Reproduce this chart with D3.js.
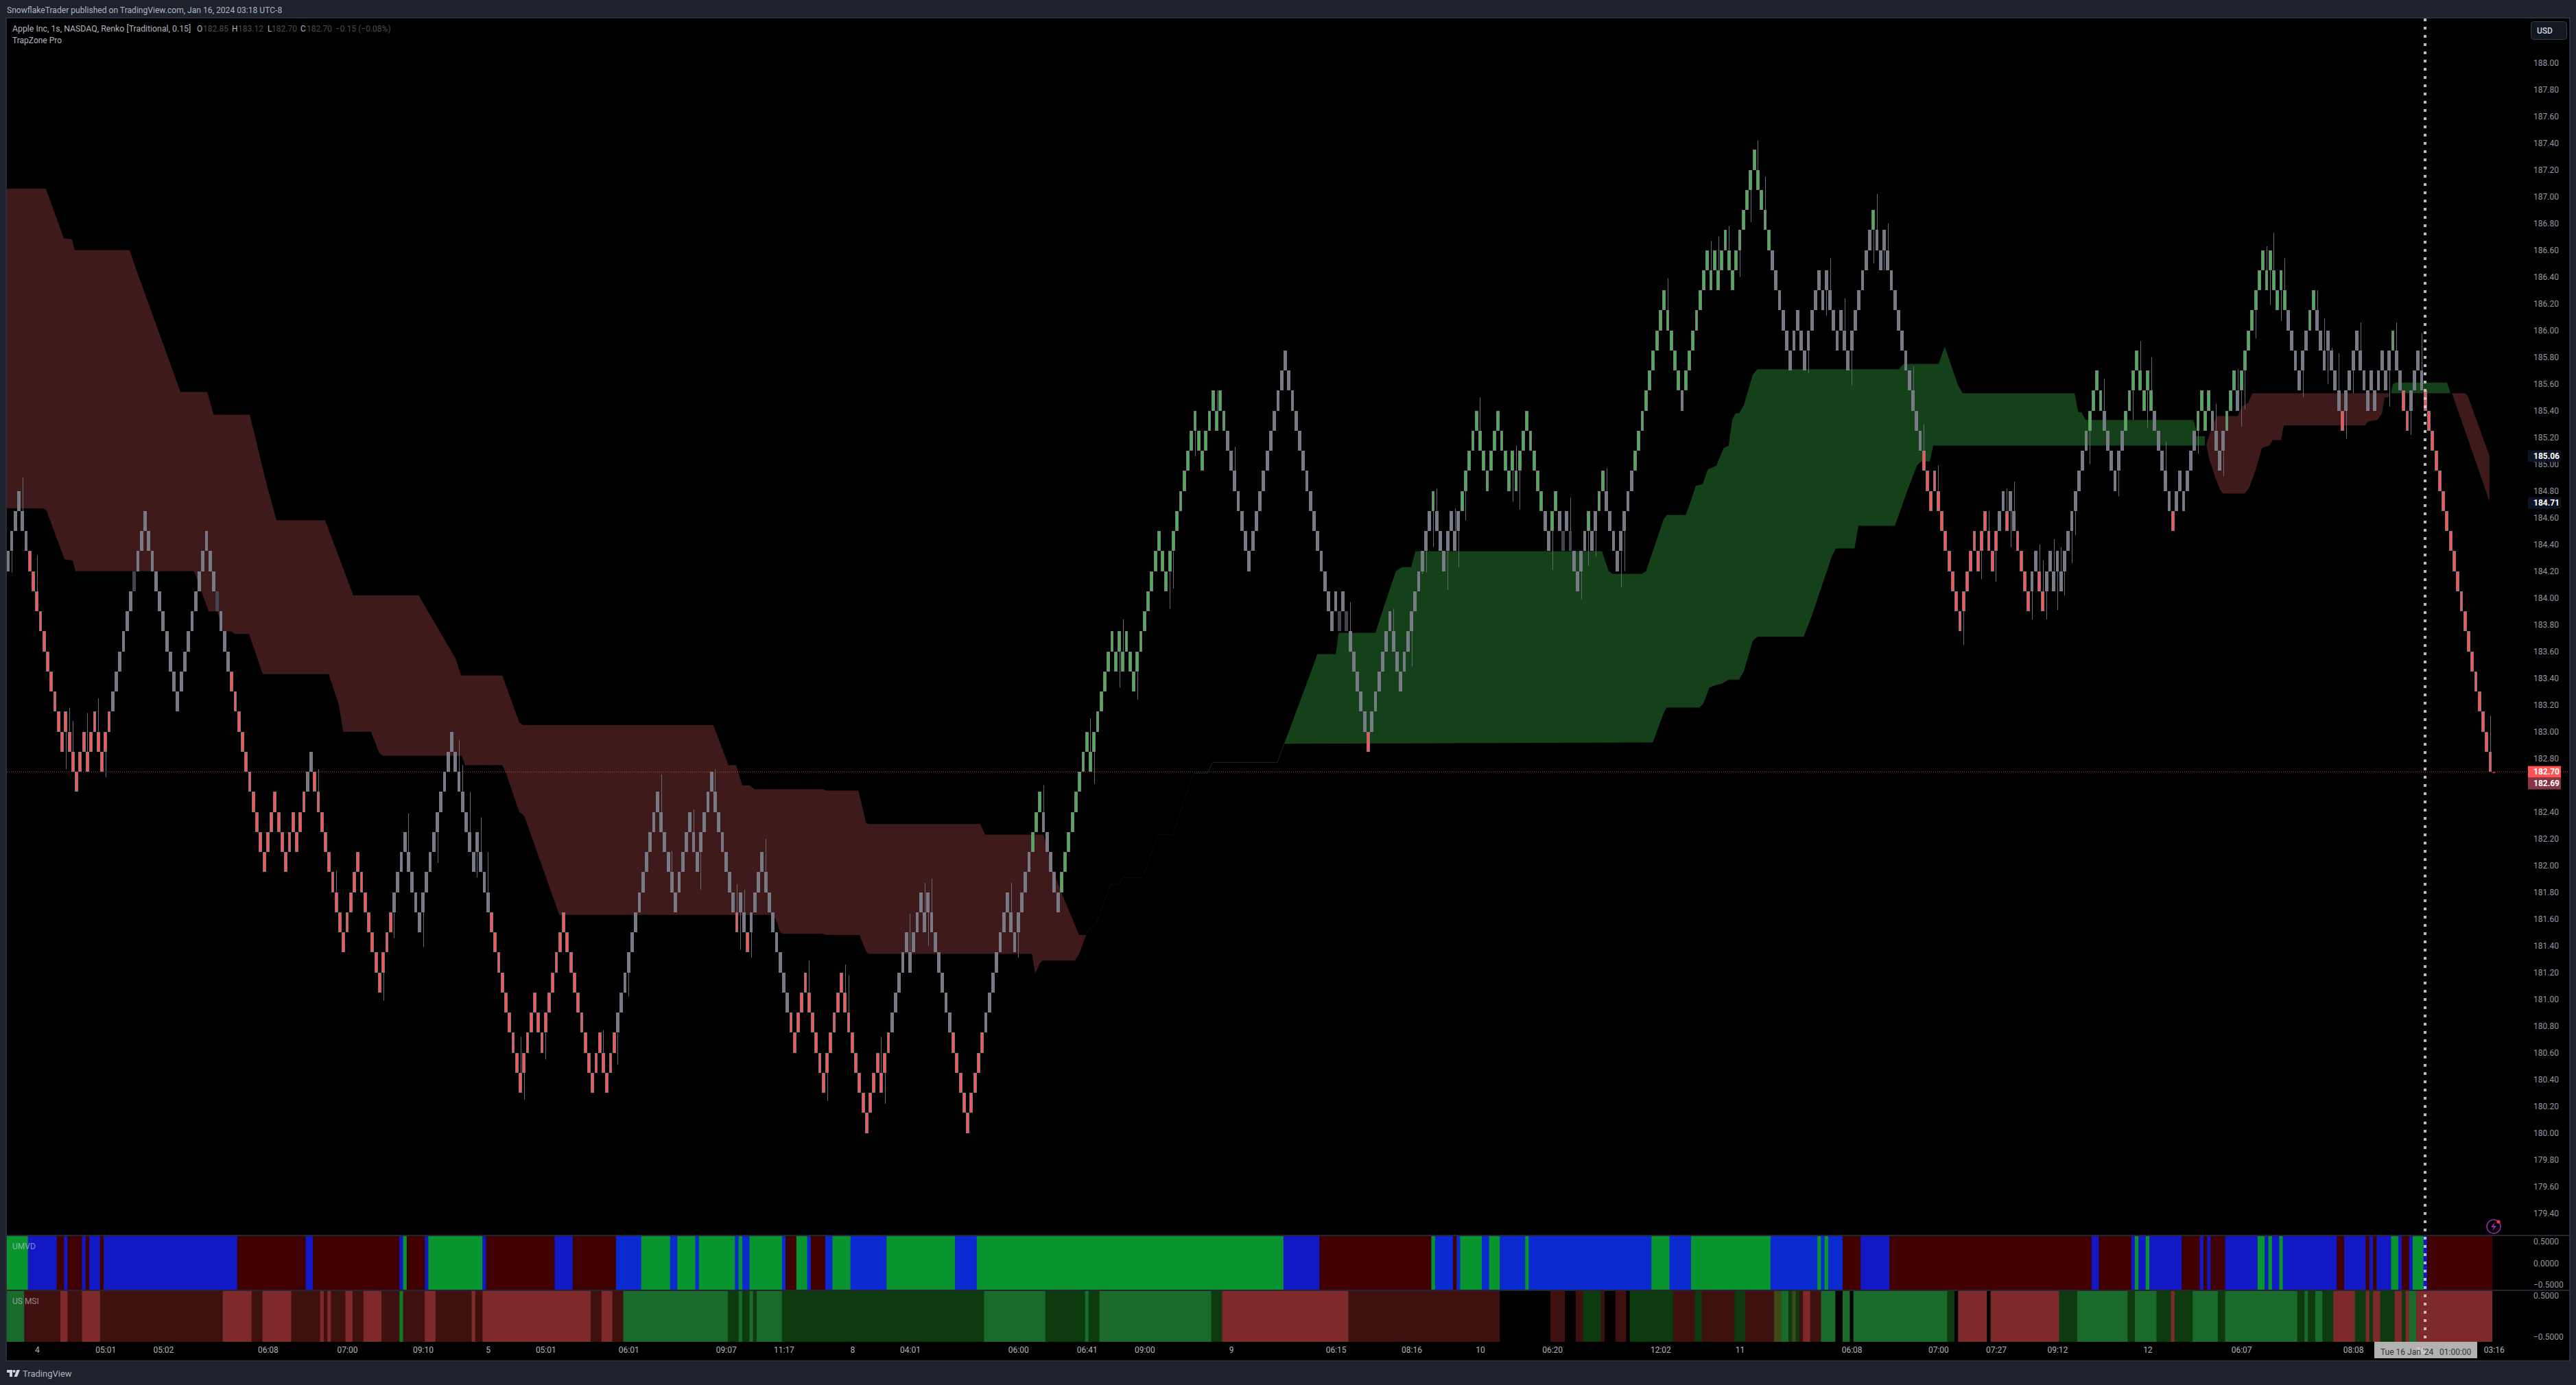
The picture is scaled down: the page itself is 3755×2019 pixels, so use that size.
<!DOCTYPE html>
<html><head><meta charset="utf-8">
<script src="https://cdn.jsdelivr.net/npm/d3@7/dist/d3.min.js"></script>
<style>html,body{margin:0;padding:0;background:#1e222d}svg{display:block}text{font-family:Roboto,"Liberation Sans",sans-serif}</style>
</head><body><script>
// ---- price scale data
const priceTicks=[188,187.8,187.6,187.4,187.2,187,186.8,186.6,186.4,186.2,186,185.8,185.6,185.4,185.2,185,184.8,184.6,184.4,184.2,184,183.8,183.6,183.4,183.2,183,182.8,182.6,182.4,182.2,182,181.8,181.6,181.4,181.2,181,180.8,180.6,180.4,180.2,180,179.8,179.6,179.4];
const basePrice=182.70, brickSize=0.15;
// lower edge of every Renko brick, in bricks from 182.70
const brickLevels=[
10,11,12,13,12,11,10,9,8,7,6,5,4,3,2,1,2,1,0,-1,0,1,0,1,2,1,0,1,2,3,4,5,6,7,8,9,10,11,12,11,
10,9,8,7,6,5,4,3,4,5,6,7,8,9,10,11,10,9,8,7,6,5,4,3,2,1,0,-1,-2,-3,-4,-5,-4,-3,-2,-3,-4,-5,-4,-3,
-4,-3,-2,
-1,0,-1,-2,-3,-4,-5,-6,-7,-8,-9,-8,-7,-6,-5,-6,-7,-8,-9,-10,
-11,-10,-9,-8,-7,-6,-5,-4,-5,-6,-7,-8,-7,-6,-5,-4,-3,-2,-1,0,
1,0,-1,-2,-3,-4,-5,-4,-5,-6,-7,-8,-9,-10,-11,-12,-13,-14,-15,-16,
-15,-14,-13,-12,-13,-14,-13,-12,-11,-10,-9,-8,-9,-10,-11,-12,-13,-14,-15,-16,
-15,-14,-15,-16,-15,-14,-13,-12,-11,-10,-9,-8,-7,-6,-5,-4,-3,-2,-3,-4,
-5,-6,-7,-6,-5,-4,-3,-4,-5,-4,-3,-2,-1,-2,-3,-4,-5,-6,-7,-8,
-7,-8,-9,-8,-7,-6,-5,-6,-7,-8,-9,-10,-11,-12,-13,-14,-13,-12,-11,-12,
-13,-14,-15,-16,-15,-14,-13,-12,-11,-12,-13,-14,-15,-16,-17,-18,-17,-16,-15,-16,
-15,-14,-13,-12,-11,-10,-9,-10,-9,-8,-7,-8,-7,-8,-9,-10,-11,
-12,-13,-14,-15,-16,-17,-18,-17,-16,-15,-14,-13,-12,-11,
-10,-9,-8,-7,-8,-9,-8,-7,-6,-5,-4,-3,-2,-3,-4,-5,-6,-7,-6,-5,
-4,-3,-2,-1,0,1,0,1,2,3,4,5,6,5,6,5,6,5,4,5,
6,7,8,9,10,11,10,9,10,11,12,13,14,15,16,17,16,15,16,17,
18,17,18,17,16,15,14,13,12,11,10,11,12,13,14,15,16,17,18,19,
20,19,18,17,16,15,14,13,12,11,10,9,8,7,8,7,8,7,6,5,
4,3,2,1,2,3,4,5,6,7,6,5,
4,5,6,7,8,9,10,11,12,13,12,11,10,11,12,11,12,13,14,15,
16,17,16,15,14,15,16,17,16,15,14,15,14,15,16,17,16,15,14,13,
12,11,12,13,12,11,12,11,10,9,10,11,12,11,12,13,14,13,12,11,
10,11,12,13,14,15,16,17,18,19,20,21,22,23,22,21,20,19,18,19,
20,21,22,23,24,25,24,25,24,25,26,25,24,25,26,27,28,29,30,29,
28,27,26,25,24,23,22,21,20,21,22,21,20,21,22,23,24,23,24,23,
22,21,22,21,20,21,22,23,24,25,26,27,26,25,26,25,24,23,22,21,
20,19,18,17,16,15,14,13,14,13,12,
11,10,9,8,7,8,9,10,11,10,11,12,11,10,11,12,13,12,13,12,
11,10,9,8,9,10,9,8,9,10,9,10,9,10,11,12,13,14,15,16,
17,18,19,18,17,16,15,14,15,16,17,18,19,20,19,18,19,18,17,16,
15,14,13,12,13,14,13,14,15,16,17,18,17,18,17,16,15,16,17,18,
19,18,19,20,21,22,23,24,25,24,25,24,23,24,23,22,21,20,19,20,
21,22,23,22,21,20,21,20,19,18,17,18,19,20,21,20,19,18,19,18,
19,20,19,20,21,20,19,18,17,18,19,20,19,18,
17,16,15,14,13,12,11,10,9,8,7,6,5,4,3,2,1,0];
// colour runs of the bricks: last bar of each run and its state (g grey, d dark grey, r red, v green)
const brickRunEnds=[5,28,34,35,57,58,61,82,84,106,133,168,201,202,204,205,216,244,261,270,283,286,291,337,368,369,370,371,376,377,394,395,402,425,427,429,430,431,432,433,437,438,440,442,450,463,464,488,516,517,530,551,553,554,556,560,562,564,576,580,586,594,599,600,606,610,614,617,618,631,637,639,646,647,660,661,663,665,669,688];
const brickRunStates=["g","r","g","d","g","d","g","r","g","r","g","r","g","r","g","r","g","r","g","r","g","v","g","v","g","d","g","d","g","r","g","v","g","v","g","v","g","d","g","d","g","v","g","v","g","v","g","v","g","v","g","r","g","r","g","r","g","r","g","v","g","v","g","r","g","v","g","v","g","v","g","v","g","r","g","v","g","r","g","r"];
// wick tips: [bar, price]
const wicks=[[1,184.19],[4,184.9],[8,184.32],[16,182.72],[17,183.18],[18,183.08],[22,183.14],[25,183.25],[27,182.66],
[86,182.72],[91,181.96],[104,180.99],[107,181.46],[111,182.39],[115,181.39],[119,182.02],[125,182.94],[126,182.75],[128,182.55],[130,181.91],[131,182.36],[133,182.1],[142,180.72],[143,180.25],[149,180.55],[165,180.77],[169,180.51],[172,181.02],[181,182.68],[184,182.11],[190,182.42],[192,181.82],[196,182.72],[202,181.86],[203,181.37],[204,181.82],[206,181.31],[210,182.2],[222,181.29],[227,180.24],[232,181.26],[233,181.18],[242,180.72],[243,180.22],
[250,181.64],[254,181.87],[255,181.4],[256,181.9],[278,181.87],[280,181.31],[287,182.6],[300,183.1],[301,182.61],[308,183.33],[309,183.84],[313,183.24],[322,183.92],[323,184.07],[329,185.06],[335,185.55],[340,185.13],[372,183.97],[384,183.92],
[389,183.49],[392,184.18],[393,184.19],[395,184.38],[396,184.82],[399,184.06],[401,184.67],[402,184.23],[404,184.58],[408,185.5],[417,184.72],[418,185.14],[419,184.66],[428,184.21],[433,184.75],[436,183.99],[438,184.24],[440,184.31],[443,184.97],[447,184.08],[448,184.2],[460,186.39],[472,186.67],[474,186.7],[477,186.78],[480,186.4],[483,186.81],[485,187.42],[487,187.15],[499,185.68],[504,186.11],[505,186.54],[509,186.24],[511,185.59],[517,186.5],[518,187.02],[520,186.45],[521,186.8],[528,185.73],[531,185.3],
[535,184.99],[542,183.65],[547,184.14],[549,184.65],[551,184.12],[554,184.82],[555,184.38],[556,184.87],[561,183.84],[563,184.4],[564,184.28],[565,183.84],[567,184.44],[568,183.91],[569,184.38],[570,184.02],[572,184.26],[573,184.47],[577,185],[581,185.64],[585,184.76],[589,185.33],[591,185.92],[593,185.27],[594,185.8],[598,185.17],[607,185.08],[612,185.45],[614,184.91],[618,185.71],[619,185.28],[620,185.41],[623,185.94],[626,186.63],[627,186.19],[628,186.73],[630,186.07],[631,186.54],[636,185.5],[640,186.3],[642,186.09],[643,185.6],[644,185.87],[646,185.83],[648,185.19],[650,185.53],[652,186.06],[660,185.43],[662,186.06],[666,185.22],[669,185.98],[688,183.12]];
// TrapZone clouds: [bar, price]
const redTop1=[[-0.4,187.06],[10.5,187.06],[15.46,186.69],[17.74,186.68],[18.5,186.6],[33.7,186.6],[36,186.42],[47.8,185.54],[55.2,185.54],[57,185.37],[67,185.37],[71.4,184.88],[74.4,184.58],[87.9,184.58],[95.7,184.02],[113.8,184.02],[124,183.55],[125.6,183.42],[137,183.42],[141.7,183.07],[142.7,183.05],[195.5,183.05],[199.7,182.75],[201.8,182.75],[203.5,182.6],[205.6,182.6],[206.8,182.57],[225.8,182.57],[226.7,182.56],[235.7,182.56],[237.8,182.32],[238.5,182.31],[269.5,182.31],[270.8,182.23],[287,182.23],[289.5,181.97],[292.7,181.75],[296.9,181.48],[298.8,181.48]];
const redBot1=[[-0.4,184.67],[9.75,184.67],[10.7,184.65],[15.65,184.29],[17.9,184.28],[18.7,184.2],[51.6,184.2],[55.6,183.9],[58.05,183.9],[59.6,183.75],[61.9,183.75],[62.8,183.73],[66.8,183.73],[70.6,183.43],[88.9,183.43],[91.7,183.2],[92.9,183],[100.6,183],[102.9,182.84],[103.9,182.82],[125.7,182.82],[126.7,182.75],[137,182.75],[137.9,182.7],[141.7,182.4],[143.1,182.37],[152.8,181.63],[211.3,181.63],[212.8,181.6],[214,181.5],[214.9,181.49],[225.8,181.49],[226.7,181.48],[236,181.48],[237.8,181.36],[238.5,181.34],[283.8,181.34],[284.7,181.19],[286,181.27],[286.8,181.29],[295.7,181.29],[296.9,181.34],[298.8,181.48]];
const thinNavy=[[298.8,181.48],[299.7,181.53],[301.4,181.55],[305.6,181.86],[307.9,181.86],[308.9,181.91],[314,181.91],[315,181.94],[318.6,182.23],[322.8,182.23],[328.6,182.69]];
const thinGreen=[[328.6,182.69],[332.5,182.69],[333.8,182.77],[351.8,182.77],[353.7,182.91]];
const greenTop1=[[353.7,182.91],[355.1,183.01],[362,183.51],[362.9,183.58],[368,183.58],[368.8,183.74],[379,183.74],[381.3,183.93],[383.8,184.13],[384.7,184.2],[386.2,184.23],[388.9,184.23],[390.1,184.35],[441.8,184.35],[442.9,184.26],[443.7,184.2],[444.8,184.18],[452.8,184.18],[454,184.2],[458.9,184.59],[459.8,184.62],[465,184.62],[466.5,184.73],[467.8,184.84],[469.7,184.85],[471.1,184.96],[473.5,184.99],[475.5,185.12],[476.9,185.14],[477.9,185.33],[478.8,185.38],[479.8,185.38],[481.1,185.44],[483.6,185.67],[484.9,185.71],[524.1,185.71],[525.3,185.75],[535.1,185.75],[536.8,185.88],[540.5,185.59],[541.8,185.53],[572.8,185.53],[573.8,185.39],[574.7,185.39],[575.9,185.33],[605.7,185.33],[606.5,185.26],[606.5,185.21],[608.9,185.21],[608.9,185.14]];
const greenBot1=[[353.7,182.91],[455.9,182.92],[458.9,183.14],[459.7,183.18],[468.8,183.18],[469.9,183.21],[471.6,183.33],[473.5,183.35],[475.1,183.36],[476.9,183.39],[479.8,183.39],[481.1,183.45],[483.6,183.68],[484.9,183.71],[497.7,183.71],[500,183.87],[505.5,184.31],[506.6,184.37],[511.8,184.37],[512.9,184.54],[523,184.54],[526.4,184.8],[529.1,184.99],[530.2,185.02],[532.7,185.02],[533.6,185.14],[608.9,185.14]];
const redTop2=[[609.3,185.15],[610.8,185.27],[612.2,185.36],[618,185.36],[619.2,185.43],[620.9,185.46],[622.1,185.53],[659.9,185.53]];
const redBot2=[[609.3,185.15],[610.1,185.04],[611.8,184.9],[613.1,184.81],[613.9,184.78],[620,184.78],[621.3,184.83],[623,184.96],[624.7,185.12],[626.8,185.14],[627.7,185.18],[630,185.18],[630.8,185.29],[653.2,185.29],[654.2,185.32],[656.7,185.33],[658,185.38],[658.7,185.5],[659.9,185.5]];
const greenTop2=[[660.5,185.53],[661,185.6],[661.8,185.61],[676,185.61],[677,185.53]];
const greenBot2=[[660.5,185.53],[677,185.53]];
const redTop3=[[677.4,185.53],[681,185.53],[681.8,185.51],[687.8,185.06]];
const redBot3=[[677.4,185.53],[682.8,185.11],[687.8,184.72]];
// UMVD pane
const umvdEnds=[5,13,15,16,20,21,22,25,26,63,82,84,108,109,110,115,116,131,132,151,156,168,175,183,185,190,191,201,202,203,205,214,215,218,221,222,226,228,233,243,262,268,353,363,394,395,400,401,402,408,410,413,420,421,455,460,466,488,501,502,503,504,508,513,521,577,579,588,589,590,592,593,602,607,608,609,610,614,623,625,626,627,629,630,645,647,653,654,655,656,660,662,663,665,666,669,670,688];
const umvdStates=["G","b","R","b","R","b","R","b","R","b","R","b","R","b","G","R","b","G","b","R","b","R","B","G","B","G","B","G","B","G","B","G","B","R","G","B","R","B","G","B","G","B","G","b","R","G","B","R","B","G","B","G","B","G","B","G","B","G","B","G","B","G","B","R","b","R","b","R","b","G","b","G","b","R","b","R","b","R","b","G","b","G","b","G","b","R","b","R","b","R","b","G","b","R","b","G","b","R"];
// US MSI pane
const msiEnds=[4,14,16,20,25,59,67,70,78,86,87,88,89,93,95,98,103,108,109,115,118,128,129,131,161,164,167,170,199,202,203,205,206,207,214,270,287,298,299,302,333,336,371,413,427,431,434,436,441,442,445,448,449,461,467,469,478,481,489,491,493,494,495,496,497,499,502,506,508,510,511,537,539,540,548,549,568,573,587,589,595,599,600,605,612,614,634,636,637,639,641,644,650,653,654,655,657,661,663,664,665,667,688];
const msiStates=["L","D","P","D","P","D","P","D","P","D","P","D","P","D","P","D","P","D","T","D","P","D","P","D","P","D","P","D","L","K","L","K","L","K","L","K","L","K","L","K","L","K","P","D","N","D","N","D","K","D","N","D","N","K","D","K","D","K","D","O","L","K","O","K","D","P","D","L","N","L","N","L","K","N","P","N","P","K","L","K","L","K","P","K","L","K","L","K","L","K","L","K","P","K","P","K","P","K","P","K","P","L","P"];
const paneTicks=[0.5,0,-0.5];
// time axis
const timeLabels=["4","05:01","05:02","06:08","07:00","09:10","5","05:01","06:01","09:07","11:17","8","04:01","06:00","06:41","09:00","9","06:15","08:16","10","06:20","12:02","11","06:08","07:00","07:27","09:12","12","06:07","08:08","16","03:16"];
const timeBars=[8,27,43,72,94,115,133,149,172,199,215,234,250,280,299,315,339,368,389,408,428,458,480,511,535,551,568,593,619,650,669,689];

const W=3755,H=2019,L=10,R=3745,T=27,PB=1801,B=1983;
const brickColor={g:"#787b86",d:"#434651",r:"#ff5252",v:"#4caf50"};
const umvdColor={G:"#089530",b:"#1118c4",B:"#0a2ad0",R:"#400000"};
const msiColor={L:"#196a2b",K:"#0d3a0e",T:"#0f7a20",D:"#3f1010",P:"#7f2a2a",N:"#000000",O:"#3d4a18"};
const cloudRed="#3f1a1a",cloudGreen="#14401a";

const svg=d3.select("body").append("svg").attr("width",W).attr("height",H);
svg.append("rect").attr("width",W).attr("height",H).attr("fill","#1e222d");
svg.append("rect").attr("x",L-1).attr("y",T-1).attr("width",R-L+2).attr("height",B-T+2).attr("fill","#000").attr("stroke","#2a2e39").attr("stroke-width",2);
const defs=svg.append("defs");
defs.append("clipPath").attr("id","plot").append("rect").attr("x",L).attr("y",T).attr("width",R-L).attr("height",PB-T);
defs.append("clipPath").attr("id","panes").append("rect").attr("x",L).attr("y",1802).attr("width",3670).attr("height",154);

const x=d3.scaleLinear().domain([0,brickLevels.length-1]).range([11.7,3630]);
const y=d3.scaleLinear().domain([188,179.4]).range([91.7,1768.7]);
const yUmvd=d3.scaleLinear().domain([0.5,-0.5]).range([1810,1873]);
const yMsi=d3.scaleLinear().domain([0.5,-0.5]).range([1889,1949]);
const line=d3.line().x(d=>x(d[0])).y(d=>y(d[1]));

const plot=svg.append("g").attr("clip-path","url(#plot)");
// clouds
const clouds=[[redTop1,redBot1,cloudRed],[greenTop1,greenBot1,cloudGreen],[redTop2,redBot2,cloudRed],[greenTop2,greenBot2,cloudGreen],[redTop3,redBot3,cloudRed]];
plot.selectAll("path.cloud").data(clouds).join("path").attr("class","cloud")
  .attr("d",c=>line(c[0].concat(c[1].slice().reverse()))+"Z").attr("fill",c=>c[2]);
plot.append("path").attr("d",line(thinNavy)).attr("fill","none").attr("stroke","#070e16").attr("stroke-width",1);
plot.append("path").attr("d",line(thinGreen)).attr("fill","none").attr("stroke","#0e2e13").attr("stroke-width",1);
// price line (behind bricks)
plot.append("line").attr("x1",L).attr("x2",R).attr("y1",y(basePrice)).attr("y2",y(basePrice)).attr("stroke","#ff5252").attr("stroke-opacity",.8).attr("stroke-dasharray","1 2");
// brick state lookup
const stateOf=i=>brickRunStates[d3.bisectLeft(brickRunEnds,i)];
const lowOf=i=>basePrice+brickLevels[i]*brickSize;
// wicks
plot.selectAll("line.wick").data(wicks).join("line").attr("class","wick")
  .attr("x1",d=>Math.round(x(d[0]))+.5).attr("x2",d=>Math.round(x(d[0]))+.5)
  .attr("y1",d=>{const lo=lowOf(d[0]),hi=lo+brickSize;return d[1]>hi?y(hi):y(lo);})
  .attr("y2",d=>y(d[1])).attr("stroke","#666974").attr("stroke-width",1);
// bricks
const brickLeft=i=>Math.round(x(i)-2.4), brickRight=i=>Math.round(x(i)+2.4);
plot.selectAll("rect.brick").data(brickLevels).join("rect").attr("class","brick")
  .attr("x",(d,i)=>brickLeft(i)+.5).attr("width",(d,i)=>brickRight(i)-brickLeft(i)-1)
  .attr("y",(d,i)=>Math.round(y(lowOf(i)+brickSize))+.5)
  .attr("height",(d,i)=>Math.round(y(lowOf(i)))-Math.round(y(lowOf(i)+brickSize))-1)
  .attr("fill",(d,i)=>brickColor[stateOf(i)])
  .attr("stroke",(d,i)=>stateOf(i)==="d"?brickColor.d:brickColor.g).attr("stroke-width",1);
// forming bar
const formingBar=[689,182.70,182.69];
plot.append("rect").attr("x",x(formingBar[0])-2).attr("width",4).attr("y",y(formingBar[1])).attr("height",Math.max(2,y(formingBar[2])-y(formingBar[1]))).attr("fill","#a83a48");

// panes
const panes=svg.append("g").attr("clip-path","url(#panes)");
function drawSegs(ends,states,colors,y0,h){
  panes.append("g").selectAll("rect").data(ends).join("rect")
   .attr("x",(d,i)=>x((i?ends[i-1]:-3)+.5)).attr("width",(d,i)=>x(d+.5)-x((i?ends[i-1]:-3)+.5)+.4)
   .attr("y",y0).attr("height",h).attr("fill",(d,i)=>colors[states[i]]);
}
drawSegs(umvdEnds,umvdStates,umvdColor,1802,78);
drawSegs(msiEnds,msiStates,msiColor,1882,74);
svg.append("g").selectAll("line").data([1801,1881]).join("line").attr("x1",L).attr("x2",R).attr("y1",d=>d).attr("y2",d=>d).attr("stroke","#2f3340").attr("stroke-width",1.5);

const txt=(s,xx,yy,col,size,anc,wt)=>svg.append("text").attr("x",xx).attr("y",yy).attr("dy","0.35em").attr("fill",col).attr("font-size",size||12).attr("text-anchor",anc||"start").attr("font-weight",wt||400).text(s);

// axes
const styleAxis=g=>{g.select(".domain").remove();g.selectAll("text").attr("fill","#9598a1").attr("font-size",12).attr("font-family","Roboto,sans-serif").attr("text-anchor","start");};
svg.append("g").attr("transform","translate(3693,0)").call(d3.axisRight(y).tickValues(priceTicks).tickSize(0).tickPadding(0).tickFormat(d3.format(".2f"))).call(styleAxis);
const paneFmt=d=>d3.format(".4f")(d).replace("-","\u2212");
svg.append("g").attr("transform","translate(3693,0)").call(d3.axisRight(yUmvd).tickValues(paneTicks).tickSize(0).tickPadding(0).tickFormat(paneFmt)).call(styleAxis);
svg.append("g").attr("transform","translate(3693,0)").call(d3.axisRight(yMsi).tickValues([0.5,-0.5]).tickSize(0).tickPadding(0).tickFormat(paneFmt)).call(styleAxis);
const xAxis=d3.axisBottom(x).tickValues(timeBars).tickSize(0).tickPadding(0).tickFormat((d,i)=>timeLabels[i]);
svg.append("g").attr("transform","translate(0,1963)").call(xAxis).call(g=>{g.select(".domain").remove();g.selectAll("text").attr("fill","#b2b5be").attr("font-size",12).attr("font-family","Roboto,sans-serif");});

// crosshair
const crossX=3535;
svg.append("line").attr("x1",crossX).attr("x2",crossX).attr("y1",27).attr("y2",1956).attr("stroke","#d0d0d0").attr("stroke-opacity",.9).attr("stroke-width",4).attr("stroke-dasharray","4 8");
svg.append("rect").attr("x",3461).attr("y",1956).attr("width",150).attr("height",24).attr("fill","#b2b2b2").attr("rx",1);
txt("16",3529,1969,"#ffffff",12,"middle").attr("opacity",.55);
txt("Tue 16 Jan '24",3470,1971,"#333",12);
txt("01:00:00",3556,1971,"#333",12);

// price labels
const priceLabels=[{p:185.06,fill:"#0c1324",col:"#fff",t:"185.06"},{p:184.71,fill:"#0c1324",col:"#fff",t:"184.71"},{p:182.70,fill:"#ff5252",col:"#fff",t:"182.70"},{p:182.70,dy:17,fill:"#873444",col:"#fff",t:"182.69"}];
priceLabels.forEach(d=>{const cy=y(d.p)+(d.dy||0);
  svg.append("rect").attr("x",3685).attr("y",cy-8.5).attr("width",48).attr("height",17).attr("fill",d.fill);
  txt(d.t,3693,cy,d.col,12,"start",700);});
// USD button
svg.append("rect").attr("x",3689.5).attr("y",31.5).attr("width",52).attr("height",26).attr("rx",4).attr("fill","#131722").attr("stroke","#363a45");
txt("USD",3698,44.5,"#d1d4dc",12,"start",500);

// header & legend
txt("SnowflakeTrader published on TradingView.com, Jan 16, 2024 03:18 UTC-8",10,15,"#b2b5be",12.1);
txt("Apple Inc, 1s, NASDAQ, Renko [Traditional, 0.15]",18,42,"#b2b5be",12.3);
const ohlcKeys=["O","H","L","C"],ohlcVals=["182.85","183.12","182.70","182.70"],ohlcKeyX=[287,338,390,438],ohlcValX=[296,347,396,447];
ohlcKeys.forEach((k,i)=>{txt(k,ohlcKeyX[i],42,"#b2b5be",12);txt(ohlcVals[i],ohlcValX[i],42,"#4a4d55",12);});
txt("\u22120.15 (\u22120.08%)",489,42,"#4a4d55",12);
txt("TrapZone Pro",18,59,"#b2b5be",12);
txt("UMVD",18,1817,"#d1d4dc",12).attr("opacity",.6);
txt("US MSI",18,1897,"#d1d4dc",12).attr("opacity",.6);

// footer logo
const logo=svg.append("g").attr("transform","translate(10,1997)").attr("fill","#d1d4dc");
logo.append("path").attr("d","M0 0H8V10H4V4H0Z");
logo.append("circle").attr("cx",10.5).attr("cy",2).attr("r",2);
logo.append("path").attr("d","M14.5 0H19L15 10H10.5Z");
txt("TradingView",33,2002,"#b2b5be",13);

// alert icon
svg.append("circle").attr("cx",3635).attr("cy",1788).attr("r",10).attr("fill","#000").attr("stroke","#9c27b0").attr("stroke-width",1.5);
svg.append("path").attr("d","M3637 1781L3631 1789H3635L3633 1795L3639 1787H3635Z").attr("fill","#9c27b0");
svg.append("circle").attr("cx",3642).attr("cy",1781).attr("r",2.6).attr("fill","#f23645");
</script></body></html>
